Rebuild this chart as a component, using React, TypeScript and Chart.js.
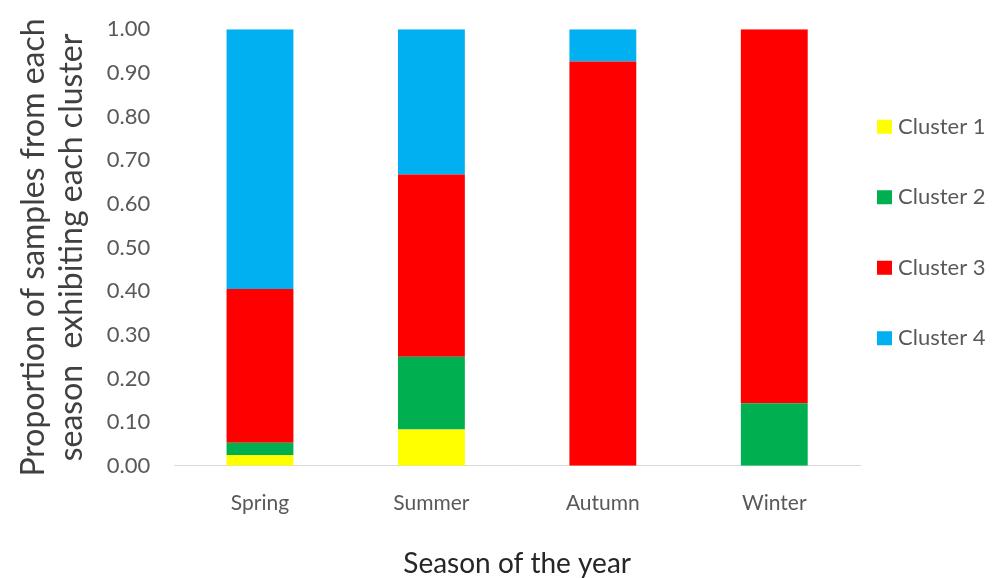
import React, { useEffect, useRef } from "react";
import { Chart, registerables } from "chart.js";

Chart.register(...registerables);

const seasons = ["Spring", "Summer", "Autumn", "Winter"];
const cluster1 = [0.025, 0.083, 0, 0];
const cluster2 = [0.028, 0.167, 0, 0.143];
const cluster3 = [0.352, 0.417, 0.926, 0.857];
const cluster4 = [0.595, 0.333, 0.074, 0];
const seriesNames = ["Cluster 1", "Cluster 2", "Cluster 3", "Cluster 4"];
const seriesColors = ["#FFFF00", "#00B050", "#FF0000", "#00B0F0"];
const yTitle = ["Proportion of samples from each", "season  exhibiting each cluster"];
const xTitle = "Season of the year";

const FONT = "Lato, 'Open Sans', sans-serif";

const sideLegend = {
  id: "sideLegend",
  afterDraw(chart: any) {
    const { ctx, chartArea } = chart;
    const ds = chart.data.datasets;
    const spacing = 70.5;
    const mid = (chartArea.top + chartArea.bottom) / 2 - 15;
    const startY = mid - (spacing * (ds.length - 1)) / 2;
    ctx.save();
    ctx.font = `22px ${FONT}`;
    ctx.textBaseline = "middle";
    ctx.textAlign = "left";
    ds.forEach((d: any, i: number) => {
      const y = startY + i * spacing;
      const x = chartArea.right + 17;
      ctx.fillStyle = d.backgroundColor;
      ctx.fillRect(x, y - 7, 15, 14);
      ctx.fillStyle = "#595959";
      ctx.fillText(d.label, x + 21, y);
    });
    ctx.restore();
  },
};

export default function App() {
  const ref = useRef<HTMLCanvasElement | null>(null);
  useEffect(() => {
    if (!ref.current) return;
    const values = [cluster1, cluster2, cluster3, cluster4];
    const chart = new Chart(ref.current, {
      type: "bar",
      data: {
        labels: seasons,
        datasets: values.map((v, i) => ({
          label: seriesNames[i],
          data: v,
          backgroundColor: seriesColors[i],
          borderWidth: 0,
          barPercentage: 1,
          categoryPercentage: 0.39,
        })),
      },
      plugins: [sideLegend],
      options: {
        responsive: false,
        animation: false,
        maintainAspectRatio: false,
        layout: { padding: { left: 14, right: 132, top: 10, bottom: 0 } },
        plugins: {
          tooltip: { enabled: false },
          legend: { display: false },
        },
        scales: {
          x: {
            stacked: true,
            grid: { display: false },
            border: { display: true, color: "#d9d9d9", width: 1 },
            ticks: { color: "#595959", font: { family: FONT, size: 21 }, padding: 17 },
            title: {
              display: true,
              text: xTitle,
              color: "#262626",
              font: { family: FONT, size: 28, lineHeight: 1.0 },
              padding: { top: 17, bottom: 0 },
            },
          },
          y: {
            stacked: true,
            min: 0,
            max: 1,
            grid: { display: false },
            border: { display: false },
            ticks: {
              stepSize: 0.1,
              color: "#595959",
              font: { family: FONT, size: 22 },
              padding: 16,
              callback: (v: any) => Number(v).toFixed(2),
            },
            title: {
              display: true,
              text: yTitle,
              color: "#404040",
              font: { family: FONT, size: 32, lineHeight: 1.2 },
              padding: { top: 0, bottom: 0 },
            },
          },
        },
      },
    });
    return () => chart.destroy();
  }, []);
  return (
    <div style={{ position: "absolute", left: 0, top: 0, width: 992, height: 578, background: "#fff" }}>
      <canvas ref={ref} width={992} height={578} />
    </div>
  );
}
